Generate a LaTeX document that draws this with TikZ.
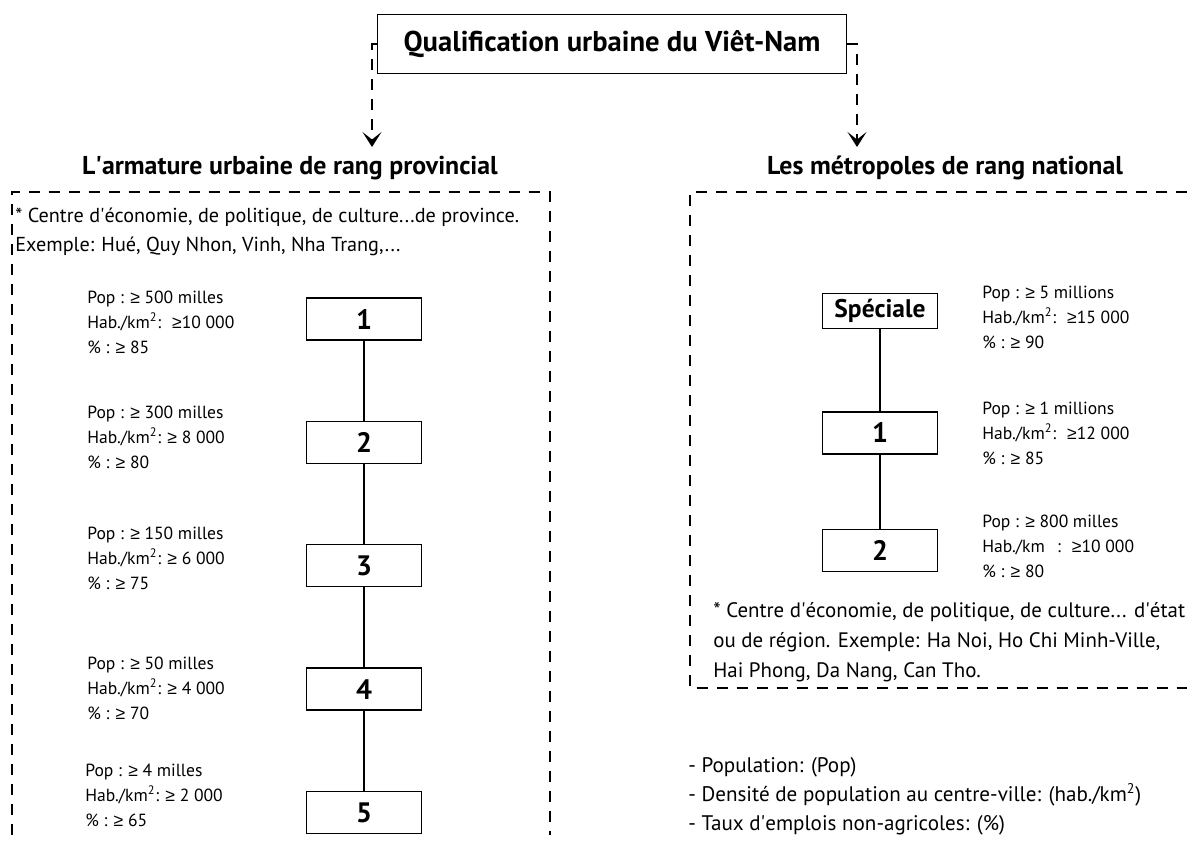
\documentclass[tikz,border=0pt]{standalone}
\usepackage{fontspec}
\setmainfont{PT Sans}
\newfontfamily\symfont{Liberation Sans}
\newcommand{\gq}{{\symfont ≥}}
\newcommand{\ap}{\textquotesingle}
\usetikzlibrary{positioning, arrows.meta}

\begin{document}
\begin{tikzpicture}[
    x=0.02cm, y=-0.02cm,
    node distance=1.6cm,
    rank/.style={rectangle, draw, line width=0.8pt, minimum width=2.3cm, minimum height=0.84cm, inner sep=1pt, font=\fontsize{16}{18}\selectfont\bfseries},
    crit/.style={anchor=west, align=left, inner sep=0pt, font=\fontsize{10}{14.2}\selectfont},
    note/.style={anchor=west, align=left, inner sep=0pt, font=\fontsize{11.5}{16.4}\selectfont},
    head/.style={font=\fontsize{14.7}{17}\selectfont\bfseries},
    frame/.style={line width=0.7pt, dash pattern=on 2.2mm off 1.8mm},
    link/.style={line width=0.7pt, dash pattern=on 2.2mm off 1.8mm, -{Stealth[length=3mm, width=3.8mm, inset=1.5mm]}},
    tie/.style={line width=0.7pt}
]
\useasboundingbox (0,0) rectangle (1187,843);

% Title
\node[draw, line width=0.9pt, minimum width=9.38cm, minimum height=1.18cm, font=\fontsize{16.3}{19}\selectfont\bfseries] (title) at (612,44) {Qualification urbaine du Viêt-Nam};

% Branch headings
\node[head] (prov) at (290,168) {L\ap armature urbaine de rang provincial};
\node[head] (nat) at (945,168) {Les métropoles de rang national};

% Dashed arrows from the title
\coordinate (provend) at (372,147);
\coordinate (natend) at (857,147);
\draw[link] (title.west) -| (provend);
\draw[link] (title.east) -| (natend);

% Dashed frames
\draw[frame] (12,835) -- (12,192) -- (550,192) -- (550,835);
\draw[frame] (1187,192) -- (690,192) -- (690,688) -- (1187,688);

% Provincial ranks
\node[note] (provtxt) at (15,232) {* Centre d\ap économie, de politique, de culture...de province.\\Exemple: Hué, Quy Nhon, Vinh, Nha Trang,...};

\node[rank] (p1) at (364,319) {1};
\node[rank, below=of p1] (p2) {2};
\node[rank, below=of p2] (p3) {3};
\node[rank, below=of p3] (p4) {4};
\node[rank, below=of p4] (p5) {5};

\draw[tie] (p1) -- (p2);
\draw[tie] (p2) -- (p3);
\draw[tie] (p3) -- (p4);
\draw[tie] (p4) -- (p5);

\node[crit] (c1) at (87,322) {Pop : \gq\ 500 milles\\Hab./km\textsuperscript{2}:~ \gq10 000\\\% : \gq\ 85};
\node[crit] (c2) at (87,437) {Pop : \gq\ 300 milles\\Hab./km\textsuperscript{2}: \gq\ 8 000\\\% : \gq\ 80};
\node[crit] (c3) at (87,558) {Pop : \gq\ 150 milles\\Hab./km\textsuperscript{2}: \gq\ 6 000\\\% : \gq\ 75};
\node[crit] (c4) at (87,688) {Pop : \gq\ 50 milles\\Hab./km\textsuperscript{2}: \gq\ 4 000\\\% : \gq\ 70};
\node[crit] (c5) at (85,795) {Pop : \gq\ 4 milles\\Hab./km\textsuperscript{2}: \gq\ 2 000\\\% : \gq\ 65};

% National ranks
\node[rank, minimum height=0.7cm, font=\fontsize{14.5}{17}\selectfont\bfseries] (ns) at (880,311) {Spéciale};
\node[rank, below=1.64cm of ns] (n1) {1};
\node[rank, below=1.48cm of n1] (n2) {2};

\draw[tie] (ns) -- (n1);
\draw[tie] (n1) -- (n2);

\node[crit] (d1) at (982,317) {Pop : \gq\ 5 millions\\Hab./km\textsuperscript{2}:~ \gq15 000\\\% : \gq\ 90};
\node[crit] (d2) at (982,433) {Pop : \gq\ 1 millions\\Hab./km\textsuperscript{2}:~ \gq12 000\\\% : \gq\ 85};
\node[crit] (d3) at (982,546) {Pop : \gq\ 800 milles\\Hab./km\phantom{\textsuperscript{2}}~:~ \gq10 000\\\% : \gq\ 80};

\node[note, font=\fontsize{11.9}{17}\selectfont] (nattxt) at (713,642) {* Centre d\ap économie, de politique, de culture... d\ap état\\ou de région. Exemple: Ha Noi, Ho Chi Minh-Ville,\\Hai Phong, Da Nang, Can Tho.};

% Legend
\node[note, font=\fontsize{12}{16.4}\selectfont] (legend) at (688,796) {- Population: (Pop)\\- Densité de population au centre-ville: (hab./km\textsuperscript{2})\\- Taux d\ap emplois non-agricoles: (\%)};

\end{tikzpicture}
\end{document}
